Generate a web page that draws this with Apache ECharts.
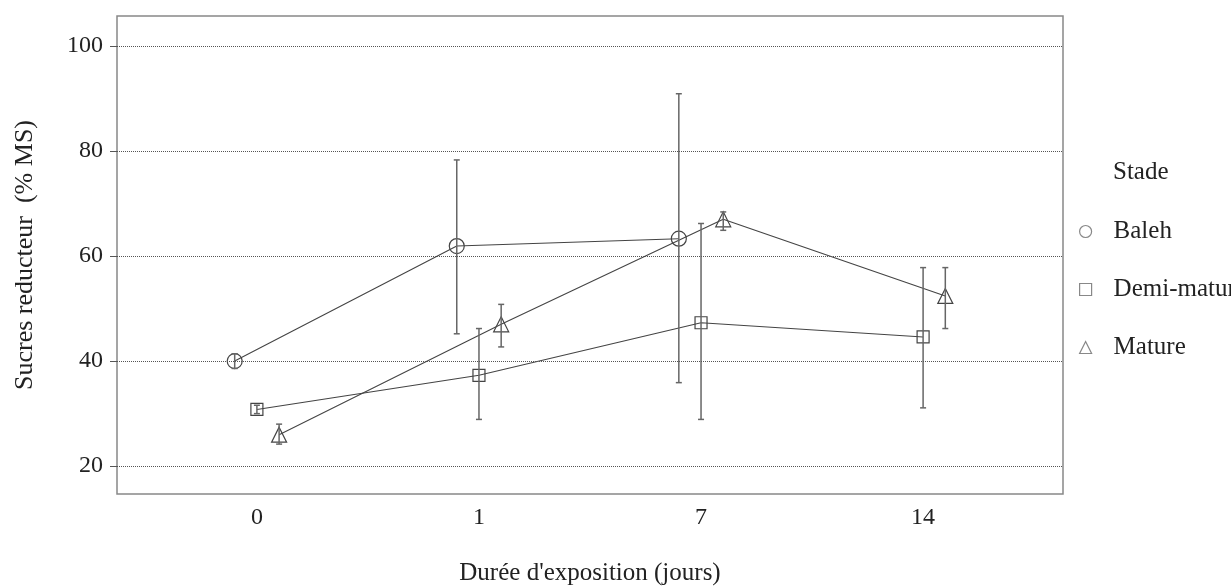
<!DOCTYPE html>
<html>
<head>
<meta charset="utf-8">
<script src="https://cdn.jsdelivr.net/npm/echarts@6/dist/echarts.min.js"></script>
<style>
  html, body { margin: 0; padding: 0; background: #fff; }
  #chart { width: 1231px; height: 588px; }
</style>
</head>
<body>
<div id="chart"></div>
<script>
// exposure days (categories)
const days = ['0', '1', '7', '14'];
const yTicks = [20, 40, 60, 80, 100];

// means and error bounds
const balehMean = [40.0, 61.9, 63.3, null];
const balehLow = [38.6, 45.2, 35.9, null];
const balehHigh = [41.4, 78.3, 90.9, null];

const demiMean = [30.8, 37.3, 47.3, 44.6];
const demiLow = [30.0, 28.9, 28.9, 31.1];
const demiHigh = [31.6, 46.2, 66.2, 57.8];

const matureMean = [26.0, 47.0, 67.0, 52.4];
const matureLow = [24.2, 42.7, 64.9, 46.2];
const matureHigh = [28.0, 50.8, 68.4, 57.8];

const font = 'Liberation Serif';
const ink = '#444';

// dodge each stage a little around the category
function pts(mean, shift) {
  return mean.map((v, i) => (v == null ? null : [i + shift, v])).filter(Boolean);
}
function bars(low, high, shift) {
  return low.map((v, i) => (v == null ? null : [i + shift, v, high[i]])).filter(Boolean);
}

function errRender(params, api) {
  const x = api.value(0);
  const top = api.coord([x, api.value(2)]);
  const bot = api.coord([x, api.value(1)]);
  const w = 3;
  const style = { stroke: '#666', lineWidth: 1.5 };
  return {
    type: 'group',
    children: [
      { type: 'line', shape: { x1: top[0], y1: top[1], x2: bot[0], y2: bot[1] }, style },
      { type: 'line', shape: { x1: top[0] - w, y1: top[1], x2: top[0] + w, y2: top[1] }, style },
      { type: 'line', shape: { x1: bot[0] - w, y1: bot[1], x2: bot[0] + w, y2: bot[1] }, style }
    ]
  };
}

function lineSeries(name, data, symbol, size) {
  return {
    name: name,
    type: 'line',
    data: data,
    symbol: symbol,
    symbolSize: size,
    lineStyle: { color: ink, width: 1.1 },
    itemStyle: { color: 'transparent', borderColor: ink, borderWidth: 1.2 },
    z: 3
  };
}

function errSeries(data) {
  return {
    type: 'custom',
    renderItem: errRender,
    data: data,
    encode: { x: 0, y: [1, 2] },
    silent: true,
    z: 4
  };
}

const chart = echarts.init(document.getElementById('chart'));

chart.setOption({
  animation: false,
  textStyle: { fontFamily: font },
  grid: {
    left: 117, top: 16, right: 168, bottom: 94,
    outerBoundsMode: 'none',
    show: true, borderColor: '#888', borderWidth: 1.5
  },
  title: {
    text: 'Stade',
    left: 1108, top: 155,
    textStyle: { fontFamily: font, fontSize: 25, fontWeight: 'normal', color: '#222' }
  },
  legend: {
    orient: 'vertical',
    left: 1074, top: 214,
    itemWidth: 12, itemHeight: 12, itemGap: 33,
    data: [
      { name: 'Baleh', icon: 'circle' },
      { name: 'Demi-mature', icon: 'rect' },
      { name: 'Mature', icon: 'triangle' }
    ],
    itemStyle: { color: 'transparent', borderColor: '#888', borderWidth: 1.2 },
    textStyle: { fontFamily: font, fontSize: 25, color: '#222', lineHeight: 25, padding: [0, 0, 0, 17] }
  },
  xAxis: {
    type: 'value',
    min: -0.63, max: 3.63,
    name: "Durée d'exposition (jours)",
    nameLocation: 'middle',
    nameGap: 67,
    nameTextStyle: { fontFamily: font, fontSize: 25, color: '#222' },
    axisLine: { show: false, onZero: false },
    axisTick: { show: false },
    splitLine: { show: false },
    axisLabel: {
      customValues: [0, 1, 2, 3],
      formatter: (v) => days[Math.round(v)],
      fontFamily: font, fontSize: 24, color: '#222', margin: 12
    }
  },
  yAxis: {
    type: 'value',
    min: 14.7, max: 105.7,
    name: 'Sucres reducteur  (% MS)',
    nameLocation: 'middle',
    nameGap: 79,
    nameTextStyle: { fontFamily: font, fontSize: 26, color: '#222' },
    axisLine: { show: false, onZero: false },
    axisTick: { show: true, length: 7, customValues: yTicks, lineStyle: { color: '#555' } },
    axisLabel: {
      customValues: yTicks,
      fontFamily: font, fontSize: 24, color: '#222', margin: 14
    },
    splitLine: { show: false }
  },
  series: [
    lineSeries('Baleh', pts(balehMean, -0.1), 'circle', 15),
    lineSeries('Demi-mature', pts(demiMean, 0), 'rect', 12),
    lineSeries('Mature', pts(matureMean, 0.1), 'triangle', 15),
    errSeries(bars(balehLow, balehHigh, -0.1)),
    errSeries(bars(demiLow, demiHigh, 0)),
    errSeries(bars(matureLow, matureHigh, 0.1)),
    {
      // dotted reference lines at the tick values
      type: 'line',
      data: [],
      silent: true,
      markLine: {
        symbol: 'none',
        silent: true,
        label: { show: false },
        lineStyle: { color: '#555', type: 'dotted', width: 1 },
        data: yTicks.map((v) => ({ yAxis: v }))
      },
      z: 1
    }
  ]
});
</script>
</body>
</html>
